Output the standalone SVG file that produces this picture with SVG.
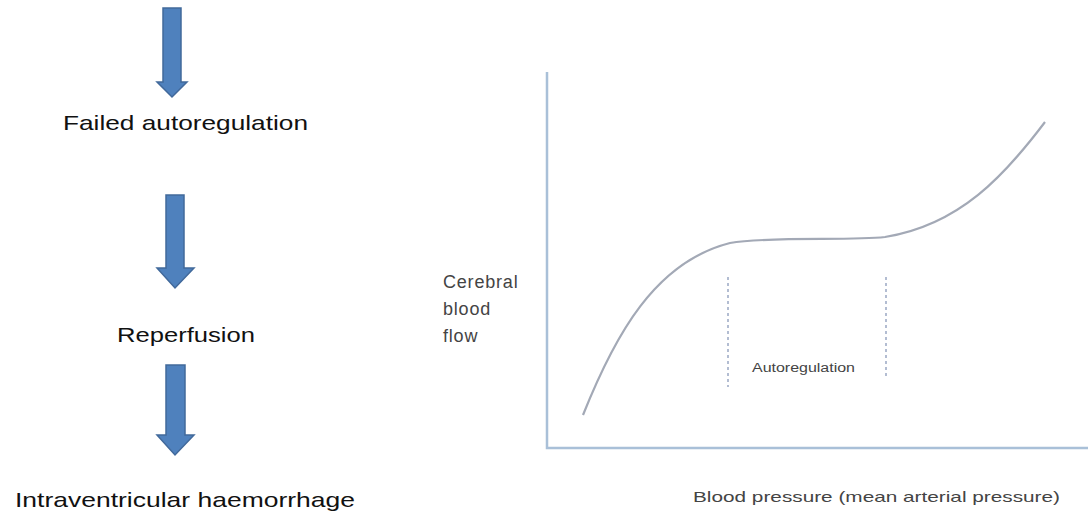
<svg xmlns="http://www.w3.org/2000/svg" width="1090" height="515" viewBox="0 0 1090 515">
<style>
.arr{fill:#4f81bd;stroke:#41699b;stroke-width:1.5}
.lbl{font-family:"Liberation Sans",Arial,sans-serif;fill:#111;font-size:21px}
.small{font-family:"Liberation Sans",Arial,sans-serif;fill:#444}
.axis{stroke:#a9c0d8;stroke-width:2.5;fill:none}
.curve{stroke:#a3a9b6;stroke-width:2.2;fill:none}
.dot{stroke:#9aa8c4;stroke-width:1.5;stroke-dasharray:3 3;fill:none}
</style>
<rect width="1090" height="515" fill="#fff"/>
<g id="connectors">
<path class="arr" d="M163,8 H181 V82 H187 L172,97 L157,82 H163 Z"/>
<path class="arr" d="M166,195 H184 V268 H194 L175,288 L157,268 H166 Z"/>
<path class="arr" d="M166,365 H185 V435 H194 L175,455 L157,435 H166 Z"/>
</g>
<g id="node-failed"><text class="lbl" x="63" y="130" textLength="245" lengthAdjust="spacingAndGlyphs">Failed  autoregulation</text></g>
<g id="node-reperfusion"><text class="lbl" x="117" y="342" textLength="138" lengthAdjust="spacingAndGlyphs">Reperfusion</text></g>
<g id="node-ivh"><text class="lbl" x="15" y="507" textLength="340" lengthAdjust="spacingAndGlyphs">Intraventricular  haemorrhage</text></g>
<g id="chart">
<path class="axis" d="M547,72 V448 H1088"/>
<path class="curve" d="M583,415 C615,335 655,262 730,243 C770,236 850,241 885,237 C960,225 1005,175 1045,122"/>
<line class="dot" x1="728" y1="277" x2="728" y2="387"/>
<line class="dot" x1="886" y1="277" x2="886" y2="376"/>
<text class="small" x="752" y="372" font-size="12" textLength="103" lengthAdjust="spacingAndGlyphs">Autoregulation</text>
<text class="small" font-size="18" letter-spacing="0.8"><tspan x="443" y="288">Cerebral</tspan><tspan x="443" y="315">blood</tspan><tspan x="443" y="342">flow</tspan></text>
<text class="small" x="693" y="502" font-size="15" textLength="367" lengthAdjust="spacingAndGlyphs">Blood pressure (mean arterial pressure)</text>
</g>
</svg>
